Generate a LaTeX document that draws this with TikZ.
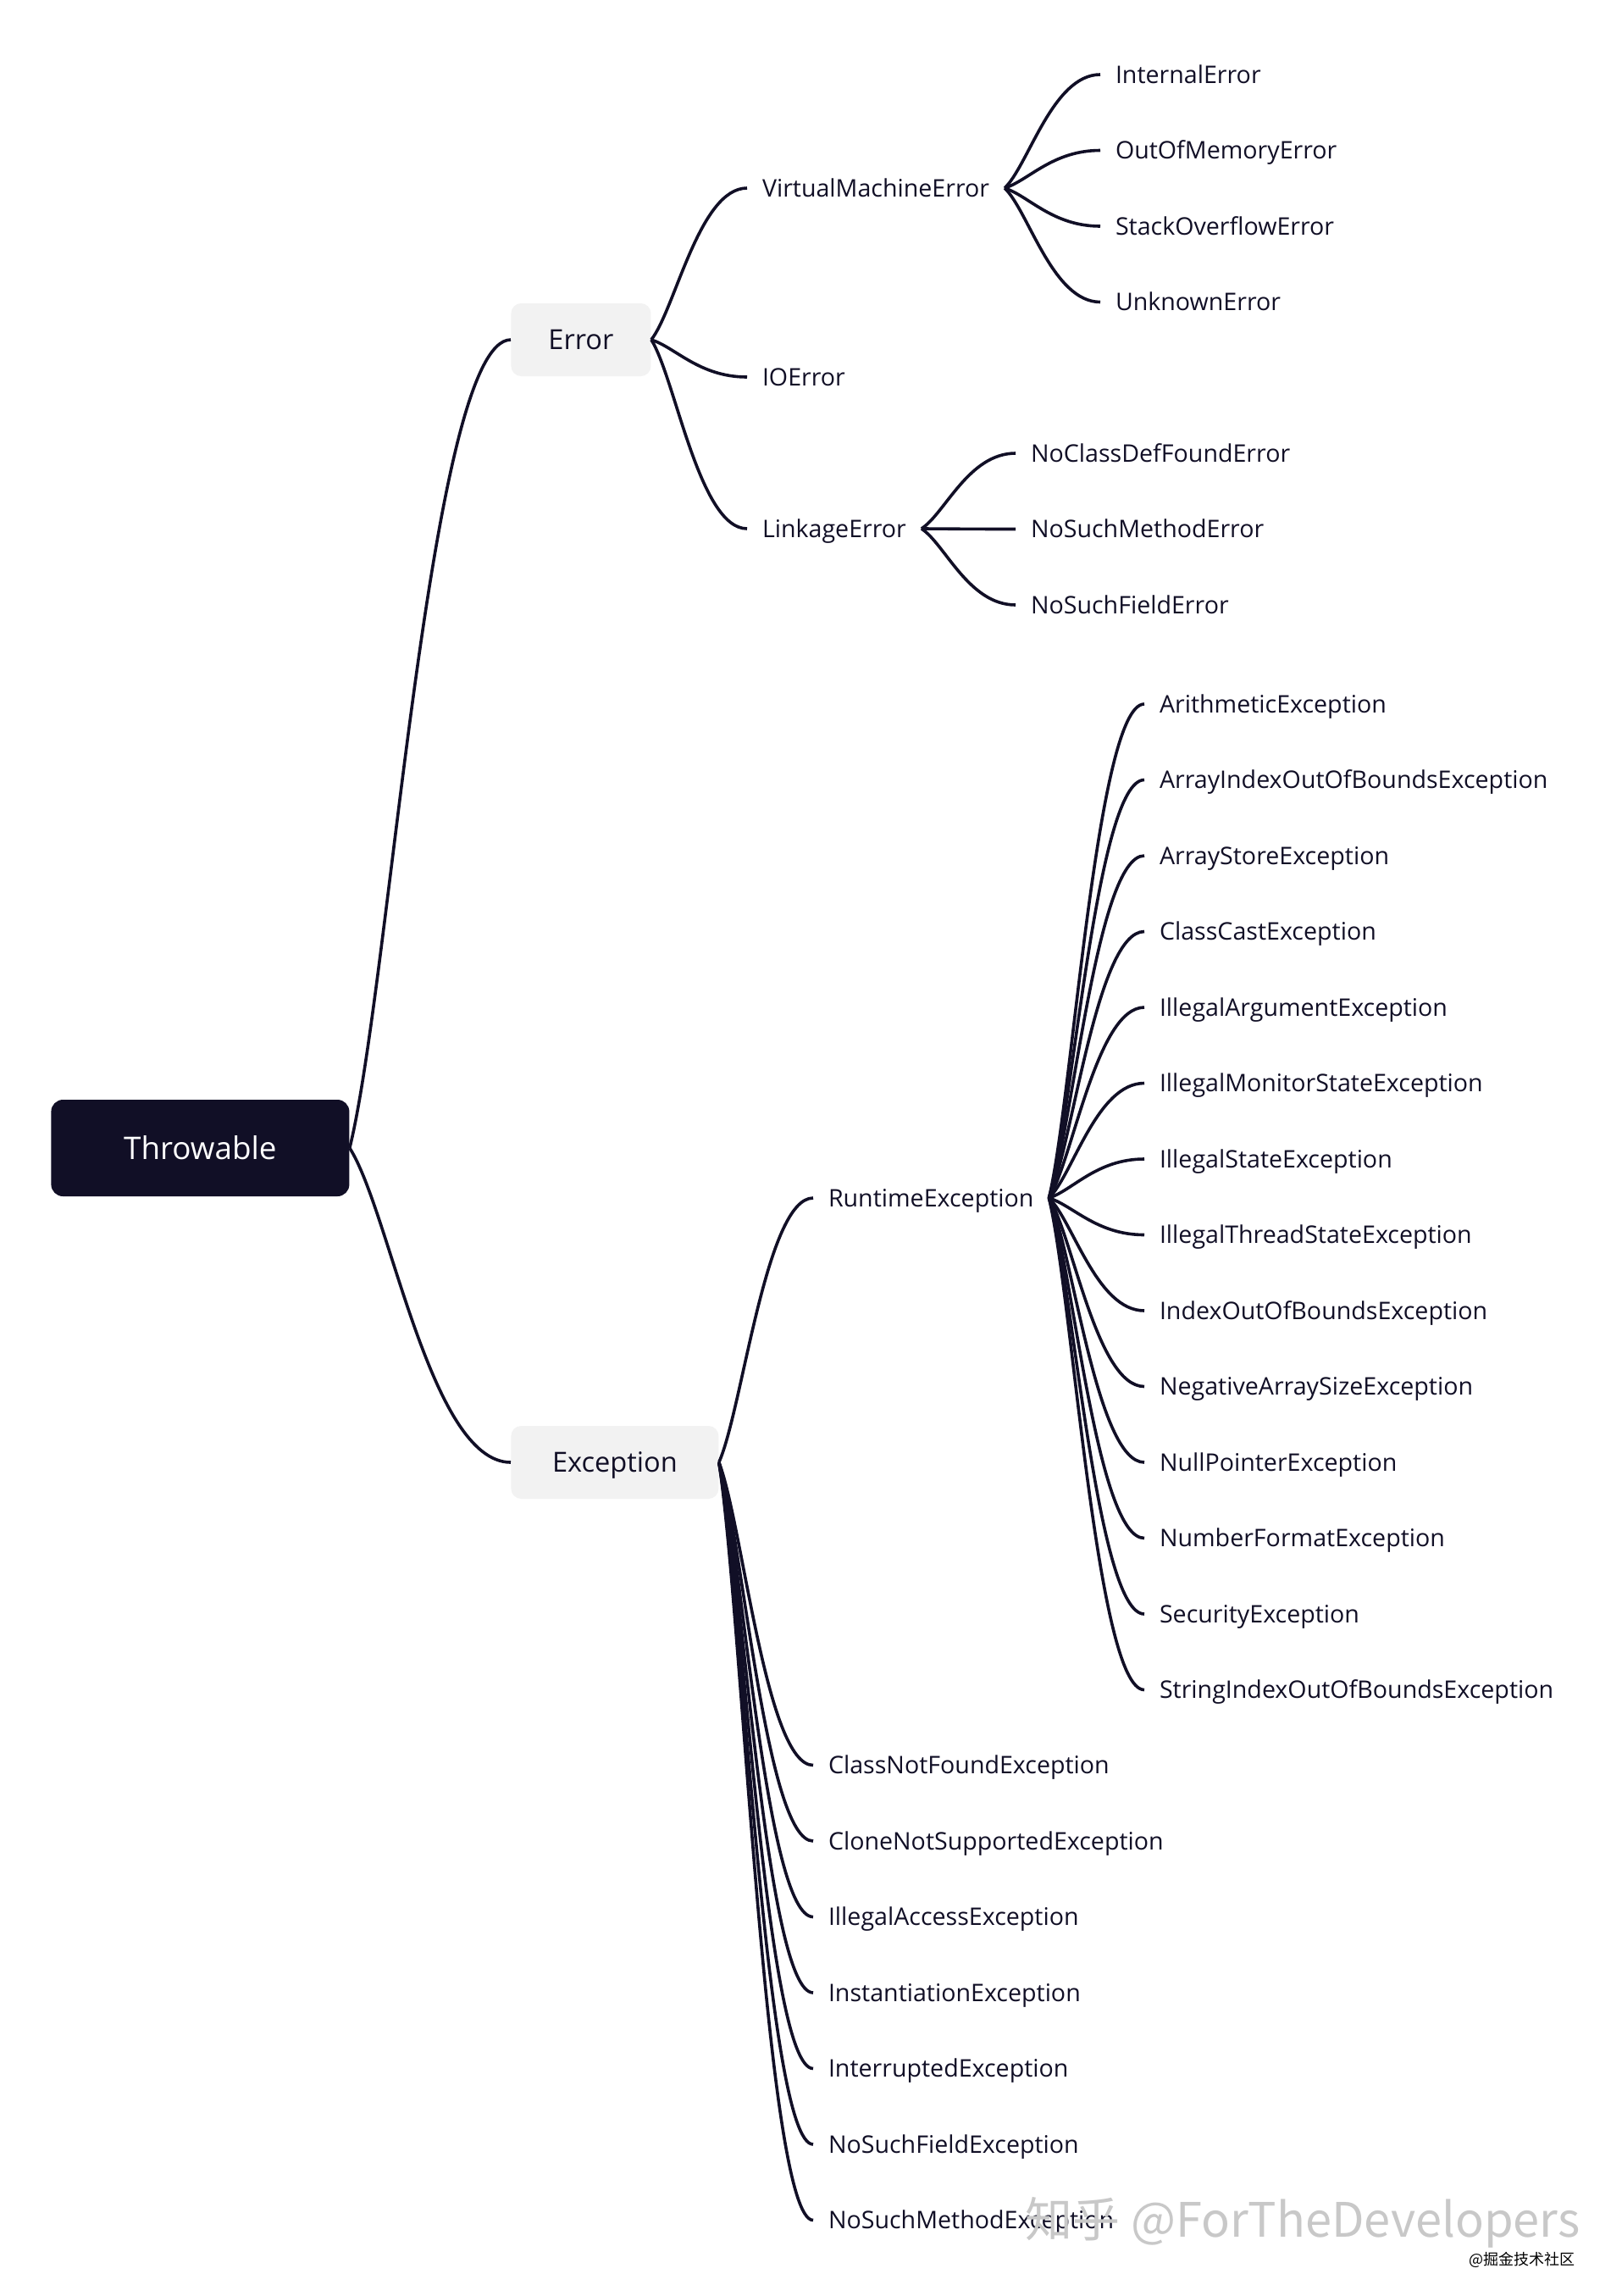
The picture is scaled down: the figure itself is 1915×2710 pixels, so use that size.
\documentclass[tikz,border=0pt]{standalone}
\usepackage{fontspec}
\setmainfont{Open Sans}
\newfontfamily\cjkfont{Noto Sans CJK SC}
\usepackage{tikz}
\usetikzlibrary{positioning,calc}

\definecolor{ink}{HTML}{110F26}
\definecolor{topicgray}{HTML}{F2F2F2}
\definecolor{markgray}{HTML}{C8C8C8}

\begin{document}
\begin{tikzpicture}[
  x=0.5pt, y=-0.5pt,
  node distance=0pt,
  root/.style={rectangle, rounded corners=7pt, fill=ink, text=white, anchor=west, minimum width=176pt, minimum height=57pt, text height=14pt, text depth=1pt, font=\fontsize{18.4}{22}\selectfont},
  topic/.style={rectangle, rounded corners=6pt, fill=topicgray, text=ink, anchor=west, inner xsep=22pt, minimum height=43pt, text height=12.5pt, text depth=1pt, font=\fontsize{16.3}{19}\selectfont},
  sub/.style={anchor=west, inner xsep=9pt, inner ysep=0pt, outer sep=0pt, text=ink, text height=11.7pt, text depth=1.3pt, font=\fontsize{14.3}{17}\selectfont},
  leaf/.style={sub, text width=262pt, align=left, minimum height=44.75pt},
  branch/.style={draw=ink, line width=1.8pt,
    to path={let \p1=(\tikztostart), \p2=(\tikztotarget) in
      .. controls ({\x1+0.25*(\x2-\x1)},{\y1+0.2*(\y2-\y1)}) and ({\x1+0.5*(\x2-\x1)},\y2) .. (\tikztotarget)}}
]

\fill[white] (0,0) rectangle (1915,2710);
\useasboundingbox (0,0) rectangle (1915,2710);

% Root and first level
\node[root] (throwable) at (60,1355) {Throwable};
\node[topic] (error) at (603,401) {Error};
\node[topic, minimum width=122.5pt] (exception) at (603,1726) {Exception};

% Error subtree
\node[sub] (vme) at (882,222) {VirtualMachineError};
\node[leaf] (ioerr) at (882,445) {IOError};
\node[sub] (linkerr) at (882,624) {LinkageError};

\node[leaf] (interr) at (1299,88) {InternalError};
\node[leaf, below=of interr] (oome) {OutOfMemoryError};
\node[leaf, below=of oome] (soe) {StackOverflowError};
\node[leaf, below=of soe] (unkerr) {UnknownError};

\node[leaf] (ncdferr) at (1199,535) {NoClassDefFoundError};
\node[leaf, below=of ncdferr] (nsmerr) {NoSuchMethodError};
\node[leaf, below=of nsmerr] (nsferr) {NoSuchFieldError};

% Exception subtree
\node[sub] (rte) at (960,1414) {RuntimeException};

\node[leaf] (ae) at (1351,831) {ArithmeticException};
\node[leaf, below=of ae] (aioobe) {ArrayIndexOutOfBoundsException};
\node[leaf, below=of aioobe] (ase) {ArrayStoreException};
\node[leaf, below=of ase] (cce) {ClassCastException};
\node[leaf, below=of cce] (iae) {IllegalArgumentException};
\node[leaf, below=of iae] (imse) {IllegalMonitorStateException};
\node[leaf, below=of imse] (ise) {IllegalStateException};
\node[leaf, below=of ise] (itse) {IllegalThreadStateException};
\node[leaf, below=of itse] (ioobe) {IndexOutOfBoundsException};
\node[leaf, below=of ioobe] (nase) {NegativeArraySizeException};
\node[leaf, below=of nase] (npe) {NullPointerException};
\node[leaf, below=of npe] (nfe) {NumberFormatException};
\node[leaf, below=of nfe] (sece) {SecurityException};
\node[leaf, below=of sece] (sioobe) {StringIndexOutOfBoundsException};

\node[leaf] (cnfe) at (960,2083.5) {ClassNotFoundException};
\node[leaf, below=of cnfe] (cnse) {CloneNotSupportedException};
\node[leaf, below=of cnse] (iacce) {IllegalAccessException};
\node[leaf, below=of iacce] (inste) {InstantiationException};
\node[leaf, below=of inste] (intre) {InterruptedException};
\node[leaf, below=of intre] (nsfex) {NoSuchFieldException};
\node[leaf, below=of nsfex] (nsmex) {NoSuchMethodException};

% Branches
\draw[branch] (throwable.east) to (error.west);
\draw[branch] (throwable.east) to (exception.west);

\draw[branch] (error.east) to (vme.west);
\draw[branch] (error.east) to (ioerr.west);
\draw[branch] (error.east) to (linkerr.west);

\draw[branch] (vme.east) to (interr.west);
\draw[branch] (vme.east) to (oome.west);
\draw[branch] (vme.east) to (soe.west);
\draw[branch] (vme.east) to (unkerr.west);

\draw[branch] (linkerr.east) to (ncdferr.west);
\draw[branch] (linkerr.east) to (nsmerr.west);
\draw[branch] (linkerr.east) to (nsferr.west);

\draw[branch] (exception.east) to (rte.west);
\draw[branch] (exception.east) to (cnfe.west);
\draw[branch] (exception.east) to (cnse.west);
\draw[branch] (exception.east) to (iacce.west);
\draw[branch] (exception.east) to (inste.west);
\draw[branch] (exception.east) to (intre.west);
\draw[branch] (exception.east) to (nsfex.west);
\draw[branch] (exception.east) to (nsmex.west);

\draw[branch] (rte.east) to (ae.west);
\draw[branch] (rte.east) to (aioobe.west);
\draw[branch] (rte.east) to (ase.west);
\draw[branch] (rte.east) to (cce.west);
\draw[branch] (rte.east) to (iae.west);
\draw[branch] (rte.east) to (imse.west);
\draw[branch] (rte.east) to (ise.west);
\draw[branch] (rte.east) to (itse.west);
\draw[branch] (rte.east) to (ioobe.west);
\draw[branch] (rte.east) to (nase.west);
\draw[branch] (rte.east) to (npe.west);
\draw[branch] (rte.east) to (nfe.west);
\draw[branch] (rte.east) to (sece.west);
\draw[branch] (rte.east) to (sioobe.west);

% Watermark
\node[text=markgray, font=\cjkfont\fontsize{28}{30}\selectfont] (mark) at (1538,2623) {知乎 @ForTheDevelopers};
\node[anchor=east, text=black, font=\cjkfont\fontsize{9}{10}\selectfont] (marksrc) at (1867,2667) {@掘金技术社区};

\end{tikzpicture}
\end{document}
